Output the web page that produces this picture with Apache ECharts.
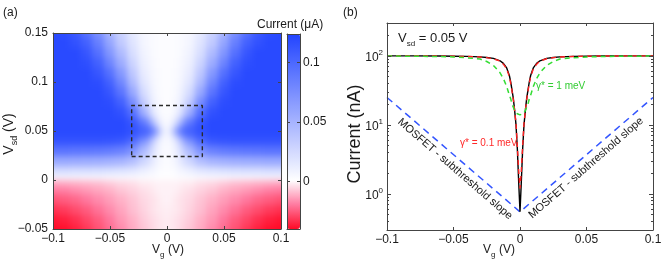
<!DOCTYPE html>
<html><head><meta charset="utf-8">
<script src="https://cdn.jsdelivr.net/npm/echarts@6/dist/echarts.min.js"></script>
<style>
html,body{margin:0;padding:0;background:#fff}
#wrap{position:relative;width:664px;height:268px;overflow:hidden}
#heatClip{position:absolute;left:53px;top:33px;width:228px;height:196px;overflow:hidden;z-index:0}
#heat{position:absolute;left:-16px;top:-16px;width:260px;height:228px;filter:blur(3px)}
#c{position:absolute;left:0;top:0;width:664px;height:268px;z-index:1}
</style>
</head><body><div id="wrap"><div id="heatClip"><div id="heat"></div></div><div id="c"></div></div>
<script>
// ---------- Panel (a): current map, Vg (V) x Vsd (V), values in nA ----------
const vgGrid = [-0.1,-0.09,-0.08,-0.07,-0.06,-0.05,-0.04,-0.03,-0.02,-0.015,-0.01,-0.006,-0.003,0,0.003,0.006,0.01,0.015,0.02,0.03,0.04,0.05,0.06,0.07,0.08,0.09,0.1];
const vsdGrid = [-0.05,-0.04,-0.03,-0.02,-0.01,-0.003,0.003,0.01,0.02,0.03,0.04,0.045,0.05,0.055,0.06,0.07,0.08,0.09,0.1,0.11,0.12,0.13,0.14,0.15];
const currentNA = [
 [-40,-39,-36,-32,-27,-22,-17,-12,-8,-6,-4,-3,-2,-2,-2,-3,-4,-6,-8,-12,-17,-22,-27,-32,-36,-39,-40],
 [-38,-36,-33,-29,-25,-20,-15,-11,-7,-5,-4,-3,-2,-2,-2,-3,-4,-5,-7,-11,-15,-20,-25,-29,-33,-36,-38],
 [-33,-31,-28,-25,-21,-17,-13,-9,-6,-4,-3,-2,-2,-1,-2,-2,-3,-4,-6,-9,-13,-17,-21,-25,-28,-31,-33],
 [-27,-25,-23,-20,-17,-14,-11,-8,-5,-4,-3,-2,-1,-1,-1,-2,-3,-4,-5,-8,-11,-14,-17,-20,-23,-25,-27],
 [-20,-19,-17,-15,-13,-11,-8,-6,-4,-3,-2,-1,-1,-1,-1,-1,-2,-3,-4,-6,-8,-11,-13,-15,-17,-19,-20],
 [-13,-12,-11,-10,-9,-7,-5,-4,-2,-2,-1,-1,-1,-1,-1,-1,-1,-2,-2,-4,-5,-7,-9,-10,-11,-12,-13],
 [7,7,7,6,6,5,5,4,3,2,2,1,1,1,1,1,2,2,3,4,5,5,6,6,7,7,7],
 [26,26,25,25,24,23,21,18,12,9,6,3,2,2,2,3,6,9,12,18,21,23,24,25,25,26,26],
 [58,58,57,56,55,53,50,42,28,20,11,6,3,2,3,6,11,20,28,42,50,53,55,56,57,58,58],
 [92,92,91,90,89,87,83,72,47,32,16,7,4,3,4,7,16,32,47,72,83,87,89,90,91,92,92],
 [112,112,112,112,112,111,108,95,70,50,25,10,5,3,5,10,25,50,70,95,108,111,112,112,112,112,112],
 [118,118,118,118,118,118,117,110,95,80,50,22,8,4,8,22,50,80,95,110,117,118,118,118,118,118,118],
 [120,120,120,120,120,120,120,115,105,100,80,45,15,5,15,45,80,100,105,115,120,120,120,120,120,120,120],
 [120,120,120,120,120,120,120,115,100,85,55,25,8,4,8,25,55,85,100,115,120,120,120,120,120,120,120],
 [120,120,120,120,120,120,120,110,85,60,30,12,5,3,5,12,30,60,85,110,120,120,120,120,120,120,120],
 [120,120,120,120,120,120,115,95,55,30,13,5,3,2,3,5,13,30,55,95,115,120,120,120,120,120,120],
 [120,120,120,120,120,118,105,75,35,18,8,4,2,2,2,4,8,18,35,75,105,118,120,120,120,120,120],
 [120,120,120,120,120,112,92,58,25,13,6,3,2,2,2,3,6,13,25,58,92,112,120,120,120,120,120],
 [120,120,120,120,118,105,80,45,18,10,5,3,2,2,2,3,5,10,18,45,80,105,118,120,120,120,120],
 [120,120,120,120,112,95,68,36,14,8,4,3,2,2,2,3,4,8,14,36,68,95,112,120,120,120,120],
 [120,120,120,117,105,82,55,28,11,6,4,2,2,2,2,2,4,6,11,28,55,82,105,117,120,120,120],
 [120,120,120,112,95,70,45,22,9,5,3,2,2,2,2,2,3,5,9,22,45,70,95,112,120,120,120],
 [120,120,115,105,85,60,35,18,7,4,3,2,2,2,2,2,3,4,7,18,35,60,85,105,115,120,120],
 [120,118,110,95,75,50,30,15,6,4,3,2,2,2,2,2,3,4,6,15,30,50,75,95,110,118,120]
];
const mapXTicks = [-0.1,-0.05,0,0.05,0.1];
const mapYTicks = [-0.05,0,0.05,0.1,0.15];
const colorbarTicks = [0,0.05,0.1];
const colorbarRange = [-0.04, 0.124];   // µA
const boxVg = [-0.031, 0.031];
const boxVsd = [0.024, 0.076];

// ---------- Panel (b): current (nA) vs Vg at Vsd = 0.05 V ----------
const vgLine = [-0.1,-0.08,-0.06,-0.05,-0.04,-0.03,-0.025,-0.02,-0.015,-0.0125,-0.01,-0.008,-0.007,-0.006,-0.005,-0.004,-0.003,-0.002,-0.001,0,0.001,0.002,0.003,0.004,0.005,0.006,0.007,0.008,0.01,0.0125,0.015,0.02,0.025,0.03,0.04,0.05,0.06,0.08,0.1];
const idealNA = [100,100,99.5,99,98.5,97,95,92,85,78,67,52,42,32,24,16,10,4.5,1.5,0.55,1.5,4.5,10,16,24,32,42,52,67,78,85,92,95,97,98.5,99,99.5,100,100];
const gamma01NA = [100,100,99.5,99,98,96.5,94.5,91,84,76,65,50,40,31,23,16,10.5,5,2.2,1.2,2.2,5,10.5,16,23,31,40,50,65,76,84,91,94.5,96.5,98,99,99.5,100,100];
const gamma1NA = [99.5,99,98,96.5,94,90,83,73,57,47,36,27,24,20,18,16,15,14.5,14.2,14,14.2,14.5,15,16,18,20,24,27,36,47,57,73,83,90,94,96.5,98,99,99.5];
const mosfetVg = [-0.1,0,0.1];
const mosfetNA = [25,0.55,25];
const lineXTicks = [-0.1,-0.05,0,0.05,0.1];
const logMajor = [1,10,100];
const logMinor = [0.4,0.5,0.6,0.7,0.8,0.9,2,3,4,5,6,7,8,9,20,30,40,50,60,70,80,90,200];
const logRange = [0.3, 300];

// ---------- build ----------
const FONT = '"Liberation Sans", Arial, Helvetica, sans-serif';
const TXT = '#1a1a1a';
const AX = '#444';
// evenly spaced colour stops over [-0.04, 0.124] µA: red -> white (at ~0) -> blue
const MAP_COLORS = ['#ff0a26','#ff7aa0','#fefeff','#d9dfff','#b4bfff','#90a1ff','#6b82ff','#4663ff','#2244ff'];
function fmtNum(v){ return v < 0 ? '\u2212' + String(-v) : String(v); }
// cell edges: midpoints between samples; outer cells run past the frame (hidden by clipping)
function edgesOf(a, outer){
  const lo=[], hi=[];
  for (let i=0;i<a.length;i++){
    lo.push(i===0 ? a[0]-outer : (a[i-1]+a[i])/2);
    hi.push(i===a.length-1 ? a[i]+outer : (a[i]+a[i+1])/2);
  }
  return {lo,hi};
}
const ex = edgesOf(vgGrid, 0.03), ey = edgesOf(vsdGrid, 0.03);
const heatData = [];
currentNA.forEach((row,j)=>row.forEach((v,i)=>{
  heatData.push([vgGrid[i], vsdGrid[j], v/1000, ex.lo[i], ex.hi[i], ey.lo[j], ey.hi[j]]);
}));
const boxPath = [[boxVg[0],boxVsd[0]],[boxVg[1],boxVsd[0]],[boxVg[1],boxVsd[1]],[boxVg[0],boxVsd[1]],[boxVg[0],boxVsd[0]]];
const zip = (xs,ys)=>xs.map((x,i)=>[x,ys[i]]);

// ---- heat layer (same Vg/Vsd scales as panel (a), softened like interpolated shading) ----
const heat = echarts.init(document.getElementById('heat'));
heat.setOption({
  animation:false, backgroundColor:'transparent',
  grid:{left:16, top:16, width:228, height:196, outerBoundsMode:'none', containLabel:false},
  xAxis:{type:'value', min:-0.1, max:0.1, show:false},
  yAxis:{type:'value', min:-0.05, max:0.15, show:false},
  visualMap:{type:'continuous', show:false, seriesIndex:0, dimension:2,
    min:colorbarRange[0], max:colorbarRange[1], inRange:{color:MAP_COLORS}},
  series:[{
    type:'custom', clip:false, silent:true,
    dimensions:['vg','vsd','cur','x0','x1','y0','y1'], encode:{x:0, y:1},
    data:heatData,
    renderItem:function(params, api){
      const p0 = api.coord([api.value(3), api.value(6)]);
      const p1 = api.coord([api.value(4), api.value(5)]);
      const x = Math.floor(p0[0]), y = Math.floor(p0[1]);
      return {type:'rect', shape:{x:x, y:y, width:Math.ceil(p1[0])-x, height:Math.ceil(p1[1])-y},
              style:{fill:api.visual('color')}};
    }
  }]
});

function axis(o){
  return {
    type:o.type||'value', gridIndex:o.grid, position:o.pos, min:o.min, max:o.max,
    logBase:10, z:10, silent:true,
    axisLine:{show:o.line!==false, onZero:false, lineStyle:{color:AX,width:1}},
    axisTick:{show:!!o.ticks, inside:true, length:o.len||3, customValues:o.ticks, lineStyle:{color:AX,width:1}},
    axisLabel:{show:!!o.labels, customValues:o.labels, margin:o.margin==null?5:o.margin, color:TXT,
               fontSize:12, fontFamily:FONT, formatter:o.fmt||fmtNum, rich:o.rich},
    splitLine:{show:false}, minorTick:{show:false}, minorSplitLine:{show:false},
    axisPointer:{show:false}
  };
}
const supRich = {
  b:{fontSize:12, fontFamily:FONT, color:TXT, verticalAlign:'bottom'},
  e:{fontSize:8, fontFamily:FONT, color:TXT, verticalAlign:'bottom', padding:[0,0,7,0]}
};
const logFmt = v => '{b|10}{e|' + Math.round(Math.log10(v)) + '}';

function subText(main, sub, rest, size, subSize, color){
  return {
    text:'{b|'+main+'}{s|'+sub+'}{b|'+rest+'}',
    rich:{
      b:{fontSize:size, fontFamily:FONT, fill:color, color:color, verticalAlign:'bottom', padding:[0,0,3,0]},
      s:{fontSize:subSize, fontFamily:FONT, fill:color, color:color, verticalAlign:'bottom'}
    }
  };
}
function gtext(x,y,style,rot){
  return {type:'text', x:x, y:y, rotation:rot||0, silent:true, z:20,
    style:Object.assign({fill:TXT, font:'12px '+FONT, align:'left', verticalAlign:'middle'}, style)};
}

const chart = echarts.init(document.getElementById('c'));
const option = {
  animation:false, backgroundColor:'transparent',
  textStyle:{fontFamily:FONT},
  grid:[
    {left:53, top:33, width:228, height:196, outerBoundsMode:'none', containLabel:false},
    {left:287, top:34, width:13, height:195, outerBoundsMode:'none', containLabel:false},
    {left:387, top:23, width:266, height:207, outerBoundsMode:'none', containLabel:false}
  ],
  xAxis:[
    axis({grid:0, pos:'bottom', min:-0.1, max:0.1, ticks:mapXTicks, labels:mapXTicks, margin:4}),
    axis({grid:0, pos:'top', min:-0.1, max:0.1, ticks:mapXTicks}),
    axis({grid:1, pos:'bottom', min:0, max:1}),
    axis({grid:1, pos:'top', min:0, max:1}),
    axis({grid:2, pos:'bottom', min:-0.1, max:0.1, ticks:lineXTicks, labels:lineXTicks, margin:4}),
    axis({grid:2, pos:'top', min:-0.1, max:0.1, ticks:lineXTicks})
  ],
  yAxis:[
    axis({grid:0, pos:'left', min:-0.05, max:0.15, ticks:mapYTicks, labels:mapYTicks, margin:5}),
    axis({grid:0, pos:'right', min:-0.05, max:0.15, ticks:mapYTicks}),
    axis({grid:1, pos:'left', min:colorbarRange[0], max:colorbarRange[1], ticks:colorbarTicks}),
    axis({grid:1, pos:'right', min:colorbarRange[0], max:colorbarRange[1], ticks:colorbarTicks, labels:colorbarTicks, margin:3}),
    axis({grid:2, type:'log', pos:'left', min:logRange[0], max:logRange[1], ticks:logMajor, labels:logMajor, len:4, margin:4, fmt:logFmt, rich:supRich}),
    axis({grid:2, type:'log', pos:'left', min:logRange[0], max:logRange[1], ticks:logMinor, len:2, line:false}),
    axis({grid:2, type:'log', pos:'right', min:logRange[0], max:logRange[1], ticks:logMajor, len:4}),
    axis({grid:2, type:'log', pos:'right', min:logRange[0], max:logRange[1], ticks:logMinor, len:2, line:false})
  ],
  visualMap:{
    type:'continuous', seriesIndex:0, dimension:2, min:colorbarRange[0], max:colorbarRange[1],
    calculable:false, show:true, left:287, top:34, itemWidth:13, itemHeight:195, padding:0,
    text:null, hoverLink:false, realtime:false, showLabel:false,
    inRange:{color:MAP_COLORS}
  },
  series:[
    { // colour scale holder for the colorbar (cells are drawn in the heat layer)
      type:'custom', xAxisIndex:0, yAxisIndex:0, silent:true, data:[],
      renderItem:function(){ return null; }
    },
    {
      type:'line', xAxisIndex:0, yAxisIndex:0, data:boxPath, symbol:'none', silent:true, z:4,
      lineStyle:{color:'#2a2a2a', width:1.4, type:[4,3]}
    },
    {
      type:'line', xAxisIndex:4, yAxisIndex:4, data:zip(mosfetVg, mosfetNA), symbol:'none', silent:true, z:3,
      lineStyle:{color:'#3355ff', width:1.5, type:[7,5]}
    },
    {
      type:'line', xAxisIndex:4, yAxisIndex:4, data:zip(vgLine, idealNA), symbol:'none', silent:true, z:4,
      lineStyle:{color:'#000000', width:1.4}
    },
    {
      type:'line', xAxisIndex:4, yAxisIndex:4, data:zip(vgLine, gamma01NA), symbol:'none', silent:true, z:5,
      lineStyle:{color:'#ff2020', width:1.4, type:[5,4]}
    },
    {
      type:'line', xAxisIndex:4, yAxisIndex:4, data:zip(vgLine, gamma1NA), symbol:'none', silent:true, z:6,
      lineStyle:{color:'#33dd33', width:1.5, type:[5,4]}
    }
  ],
  graphic:[
    gtext(3, 13, {text:'(a)'}),
    gtext(343, 13, {text:'(b)'}),
    gtext(257, 25, {text:'Current (\u03bcA)'}),
    gtext(11, 134, Object.assign({align:'center'}, subText('V','sd',' (V)',14,9,TXT)), Math.PI/2),
    gtext(168, 251, Object.assign({align:'center'}, subText('V','g',' (V)',12,8,TXT))),
    gtext(355, 134, {text:'Current (nA)', font:'18px '+FONT, align:'center'}, Math.PI/2),
    gtext(499, 251, Object.assign({align:'center'}, subText('V','g',' (V)',12,8,TXT))),
    gtext(398, 40, subText('V','sd',' = 0.05 V',13,8,TXT)),
    gtext(536, 86, {text:'\u03b3* = 1 meV', font:'10px '+FONT, fill:'#33cc33'}),
    gtext(460, 143, {text:'\u03b3* = 0.1 meV', font:'10px '+FONT, fill:'#ff2a2a'}),
    gtext(455, 169, {text:'MOSFET - subthreshold slope', font:'11px '+FONT, align:'center'}, -41*Math.PI/180),
    gtext(586, 168, {text:'MOSFET - subthreshold slope', font:'11px '+FONT, align:'center'}, 41*Math.PI/180)
  ]
};
chart.setOption(option);
</script>
</body></html>
